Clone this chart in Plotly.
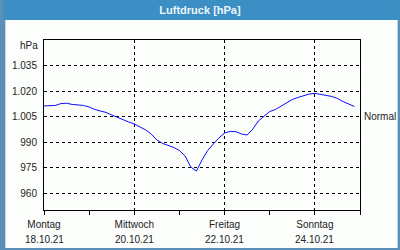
import plotly.graph_objects as go
import pandas as pd

# ---- data ----
start_time = "2021-10-18 00:00"
step = "3h"
pressure = [
    1011.2, 1011.2, 1011.5, 1012.6, 1012.8, 1012.1, 1011.8, 1011.5, 1010.6, 1009.1,
    1008.2, 1007.4, 1005.9, 1004.4, 1002.9, 1001.8, 1000.6, 998.8, 997.1, 994.7,
    991.2, 989.2, 987.9, 986.8, 985.0, 981.8, 975.3, 972.9, 979.4, 985.0,
    988.8, 992.4, 995.3, 996.2, 996.1, 994.7, 994.1, 997.6, 1002.4, 1005.3,
    1007.9, 1009.1, 1011.2, 1012.9, 1015.0, 1016.2, 1017.1, 1018.2, 1018.6, 1018.2,
    1017.4, 1016.8, 1015.6, 1013.8, 1012.4, 1010.9,
]
times = pd.date_range(start_time, periods=len(pressure), freq=step)

x_tickvals = ["2021-10-18", "2021-10-20", "2021-10-22", "2021-10-24"]
x_daynames = ["Montag", "Mittwoch", "Freitag", "Sonntag"]
x_dates = ["18.10.21", "20.10.21", "22.10.21", "24.10.21"]
y_tickvals = [1035, 1020, 1005, 990, 975, 960]
y_ticktext = ["1.035", "1.020", "1.005", "990", "975", "960"]
title_text = "Luftdruck [hPa]"
unit_text = "hPa"
normal_text = "Normal"

# ---- layout geometry (pixels) ----
W, H = 400, 250
L, R, T, B = 41, 40, 40, 40
pw, ph = W - L - R, H - T - B

def px(xp):
    return (xp - L) / pw

def py(yp):
    return (H - B - yp) / ph

font = "Liberation Sans, Arial, sans-serif"
txt = "#222222"

fig = go.Figure()
fig.add_trace(go.Scatter(x=times, y=pressure, mode="lines",
                         line=dict(color="#0a0aff", width=1), hoverinfo="skip"))

shapes = [
    dict(type="rect", xref="paper", yref="paper", x0=px(2), x1=px(398), y0=py(20), y1=py(248),
         fillcolor="#fcfefc", line=dict(width=0), layer="below"),
    dict(type="rect", xref="paper", yref="paper", x0=px(0), x1=px(400), y0=py(0), y1=py(20),
         fillcolor="#3b8fc4", line=dict(width=0), layer="below"),
]

annotations = [
    dict(text=unit_text, xref="paper", yref="y", x=px(37), y=1047, xanchor="right",
         yanchor="middle", showarrow=False, font=dict(size=10, color=txt)),
    dict(text=normal_text, xref="paper", yref="y", x=px(362), y=1005, xanchor="left",
         yanchor="middle", showarrow=False, font=dict(size=10, color=txt)),
]
for tv, d in zip(x_tickvals, x_dates):
    annotations.append(dict(text=d, xref="x", yref="paper", x=tv, y=py(239), xanchor="center",
                            yanchor="middle", showarrow=False, font=dict(size=10, color=txt)))

fig.update_layout(
    width=W, height=H,
    margin=dict(l=L, r=R, t=T, b=B, pad=0),
    paper_bgcolor="#5a8fb8",
    plot_bgcolor="#fcfefc",
    showlegend=False,
    shapes=shapes,
    font=dict(family=font, size=10, color=txt),
    title=dict(text="<b>" + title_text + "</b>", x=0.5, xref="container", xanchor="center",
               y=1 - 10 / H, yref="container", yanchor="middle",
               font=dict(family=font, size=11, color="#eef6fa")),
    annotations=annotations,
)

fig.update_xaxes(
    type="date", range=["2021-10-18", "2021-10-25"],
    tickmode="array", tickvals=x_tickvals, ticktext=x_daynames,
    ticks="outside", ticklen=4, tickcolor="black", ticklabelstandoff=1,
    showgrid=True, gridcolor="black", griddash="3px,3px", gridwidth=1,
    showline=True, linecolor="black", linewidth=1, mirror=True,
    minor=dict(dtick=86400000, tick0="2021-10-18", ticks="outside", ticklen=4,
               tickcolor="black", showgrid=False),
    tickfont=dict(size=10, color=txt), zeroline=False,
)
fig.update_yaxes(
    range=[950, 1050], tickmode="array", tickvals=y_tickvals, ticktext=y_ticktext,
    ticks="", ticklabelstandoff=4,
    showgrid=True, gridcolor="black", griddash="3px,3px", gridwidth=1,
    showline=True, linecolor="black", linewidth=1, mirror=True,
    tickfont=dict(size=10, color=txt), zeroline=False,
)

fig.write_html("out.html")
